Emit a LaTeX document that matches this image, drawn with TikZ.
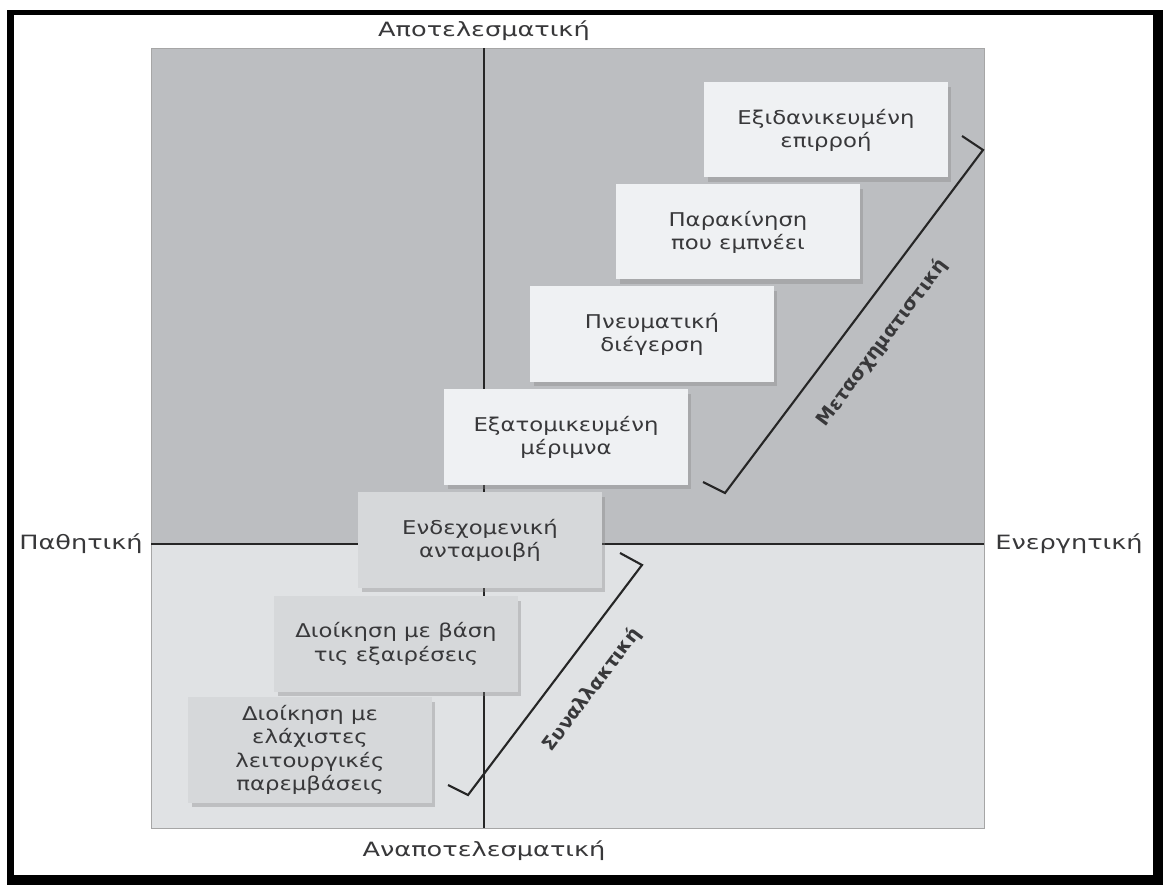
\documentclass[tikz,border=0pt]{standalone}
\usepackage{fontspec}
\setmainfont{DejaVu Sans}
\newfontfamily\widefont{DejaVu Sans}[FakeStretch=1.3]
\newfontfamily\boxfont{DejaVu Sans}[FakeStretch=1.2]
\usetikzlibrary{shadows}

\definecolor{bgupper}{HTML}{BCBEC1}
\definecolor{bglower}{HTML}{E0E2E4}
\definecolor{boxlight}{HTML}{EFF1F3}
\definecolor{boxdark}{HTML}{D6D8DA}
\definecolor{inkgray}{HTML}{38383A}

\begin{document}
\begin{tikzpicture}[
    x=0.025cm, y=0.025cm,
    stepbox/.style={rectangle, minimum width=6.075cm, minimum height=2.375cm, align=center,
        font=\boxfont\fontsize{13.5}{16.5}\selectfont, text=inkgray,
        drop shadow={shadow xshift=2.5pt, shadow yshift=-3pt, opacity=0.35}},
    upperbox/.style={stepbox, fill=boxlight},
    lowerbox/.style={stepbox, fill=boxdark},
    axis/.style={line width=1.5pt, black!85},
    bracket/.style={line width=1.5pt, black!85, line join=miter},
    axislabel/.style={font=\widefont\fontsize{14}{17}\selectfont, text=inkgray},
    bracketlabel/.style={font=\bfseries\fontsize{13.5}{16}\selectfont, text=inkgray, sloped},
    ]
    \useasboundingbox (0,0) rectangle (1163,885);
    % frame
    \fill[black] (7,0) rectangle (1163,875);
    \fill[white] (14,10) rectangle (1153,870);
    % quadrants
    \fill[bgupper] (151,341) rectangle (984,837);
    \fill[bglower] (151,57) rectangle (984,341);
    \draw[gray!70, thin] (151,57) rectangle (984,837);

    \coordinate (top) at (484,837);
    \coordinate (bottom) at (484,57);
    \coordinate (left) at (151,341);
    \coordinate (right) at (984,341);
    \draw[axis] (bottom) -- (top);
    \draw[axis] (left) -- (right);

    \node[axislabel] (effective) at (484,854) {Αποτελεσματική};
    \node[axislabel] (ineffective) at (484,34) {Αναποτελεσματική};
    \node[axislabel] (passive) at (81,341) {Παθητική};
    \node[axislabel] (active) at (1069,341) {Ενεργητική};

    % steps
    \node[upperbox] (idealized) at (826,755) {Εξιδανικευμένη\\επιρροή};
    \node[upperbox] (inspiration) at (738,653) {Παρακίνηση\\που εμπνέει};
    \node[upperbox] (stimulation) at (652,551) {Πνευματική\\διέγερση};
    \node[upperbox] (consideration) at (566,448) {Εξατομικευμένη\\μέριμνα};
    \node[lowerbox] (reward) at (480,345) {Ενδεχομενική\\ανταμοιβή};
    \node[lowerbox] (exception) at (396,241) {Διοίκηση με βάση\\τις εξαιρέσεις};
    \node[lowerbox, minimum height=2.625cm] (laissez) at (310,135) {Διοίκηση με\\ελάχιστες\\λειτουργικές\\παρεμβάσεις};

    % brackets
    \coordinate (tfA) at (703,403);
    \coordinate (tfB) at (725,392);
    \coordinate (tfC) at (983,735);
    \coordinate (tfD) at (962,749);
    \draw[bracket] (tfA) -- (tfB) -- node[bracketlabel, below=0.5cm] {Μετασχηματιστική} (tfC) -- (tfD);

    \coordinate (trA) at (448,100);
    \coordinate (trB) at (468,90);
    \coordinate (trC) at (642,320);
    \coordinate (trD) at (620,332);
    \draw[bracket] (trA) -- (trB) -- node[bracketlabel, pos=0.55, below=0.5cm] {Συναλλακτική} (trC) -- (trD);
\end{tikzpicture}
\end{document}
